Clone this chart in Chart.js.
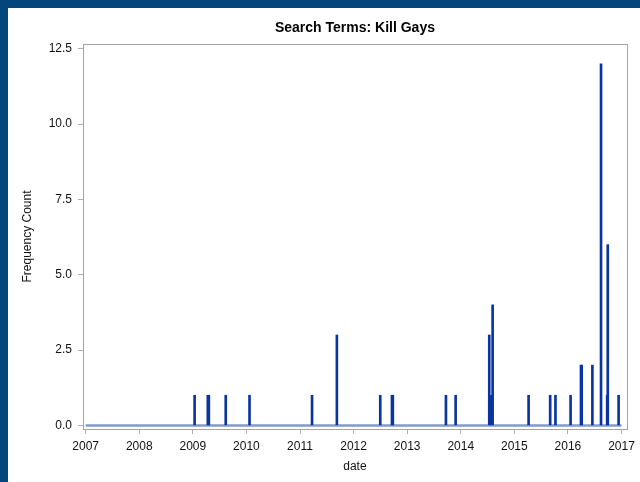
<!DOCTYPE html>
<html>
<head>
<meta charset="utf-8">
<script src="https://cdn.jsdelivr.net/npm/chart.js@4"></script>
<style>
  html, body { margin: 0; padding: 0; }
  body { width: 640px; height: 482px; background: #03467b; position: relative; overflow: hidden; }
  #wrap { position: absolute; left: 8px; top: 8px; width: 632px; height: 474px; background: #fff; }
</style>
</head>
<body>
<div id="wrap"><canvas id="searchChart"></canvas></div>
<script>
const chartTitle = 'Search Terms: Kill Gays';

// days with hits
const hitDates = [
    '2009-01-13', '2009-04-13', '2009-04-20', '2009-08-13', '2010-01-22',
    '2011-03-24', '2011-09-09', '2012-07-01', '2012-09-19', '2012-09-25',
    '2013-09-22', '2013-11-27', '2014-07-14', '2014-07-27', '2014-08-06',
    '2015-04-08', '2015-09-02', '2015-10-08', '2016-01-19', '2016-03-30',
    '2016-04-04', '2016-06-16', '2016-08-14', '2016-09-25', '2016-09-29',
    '2016-12-12'
];
const hitCounts = [
    1, 1, 1, 1, 1,
    1, 3, 1, 1, 1,
    1, 1, 3, 1, 4,
    1, 1, 1, 1, 2,
    2, 2, 12, 1, 6,
    1
];
const yearTicks = [2007, 2008, 2009, 2010, 2011, 2012, 2013, 2014, 2015, 2016, 2017];
const countTicks = [0, 2.5, 5, 7.5, 10, 12.5];

function yearFrac(s) {
    const d = new Date(s + 'T00:00:00Z');
    const y = d.getUTCFullYear();
    const start = Date.UTC(y, 0, 1);
    return y + (d.getTime() - start) / (Date.UTC(y + 1, 0, 1) - start);
}

const needles = hitDates.map((d, i) => ({ x: yearFrac(d), y: hitCounts[i] }));
const baseline = [
    { x: yearTicks[0], y: 0 },
    { x: yearTicks[yearTicks.length - 1], y: 0 }
];

const FONT = '"Liberation Sans", Arial, sans-serif';
Chart.defaults.font.family = FONT;
Chart.defaults.color = '#111';

// box round the plot area + the title centred over it
const frame = {
    id: 'frame',
    afterDraw(chart) {
        const { ctx, chartArea: a } = chart;
        ctx.save();
        ctx.strokeStyle = '#a3a3a3';
        ctx.lineWidth = 1;
        ctx.strokeRect(Math.round(a.left) + 0.5, Math.round(a.top) + 0.5,
            Math.round(a.right - a.left), Math.round(a.bottom - a.top));
        ctx.fillStyle = '#000';
        ctx.font = 'bold 14px ' + FONT;
        ctx.textAlign = 'center';
        ctx.textBaseline = 'middle';
        ctx.fillText(chartTitle, (a.left + a.right) / 2, 20);
        ctx.restore();
    }
};

new Chart(document.getElementById('searchChart'), {
    type: 'bar',
    data: {
        datasets: [{
            type: 'bar',
            data: needles,
            backgroundColor: '#0a34a0',
            borderWidth: 0,
            barThickness: 2,
            order: 1
        }, {
            type: 'line',
            data: baseline,
            borderColor: 'rgba(45, 85, 175, 0.6)',
            borderWidth: 2.5,
            pointRadius: 0,
            order: 2
        }]
    },
    options: {
        responsive: true,
        maintainAspectRatio: false,
        animation: false,
        layout: { padding: { top: 36, right: 13, bottom: 0, left: 0 } },
        plugins: {
            legend: { display: false },
            tooltip: { enabled: false }
        },
        scales: {
            x: {
                type: 'linear',
                offset: false,
                min: 2006.95,
                max: 2017.1,
                afterFit: s => { s.height = 53; },
                afterBuildTicks: s => { s.ticks = yearTicks.map(v => ({ value: v })); },
                grid: { offset: false, drawOnChartArea: false, drawTicks: true, tickLength: 5, color: '#b0b0b0' },
                border: { display: true, color: '#a3a3a3' },
                ticks: { padding: 5, font: { size: 12 }, callback: v => String(v), maxRotation: 0 },
                title: { display: true, text: 'date', font: { size: 12 }, padding: { top: 0, bottom: 8 } }
            },
            y: {
                min: -0.12,
                max: 12.66,
                afterFit: s => { s.width = 75; },
                afterBuildTicks: s => { s.ticks = countTicks.map(v => ({ value: v })); },
                grid: { drawOnChartArea: false, drawTicks: true, tickLength: 5, color: '#b0b0b0' },
                border: { display: true, color: '#a3a3a3' },
                ticks: { padding: 6, font: { size: 12 }, callback: v => v.toFixed(1) },
                title: { display: true, text: 'Frequency Count', font: { size: 12 }, padding: { top: 12, bottom: 0 } }
            }
        }
    },
    plugins: [frame]
});
</script>
</body>
</html>
